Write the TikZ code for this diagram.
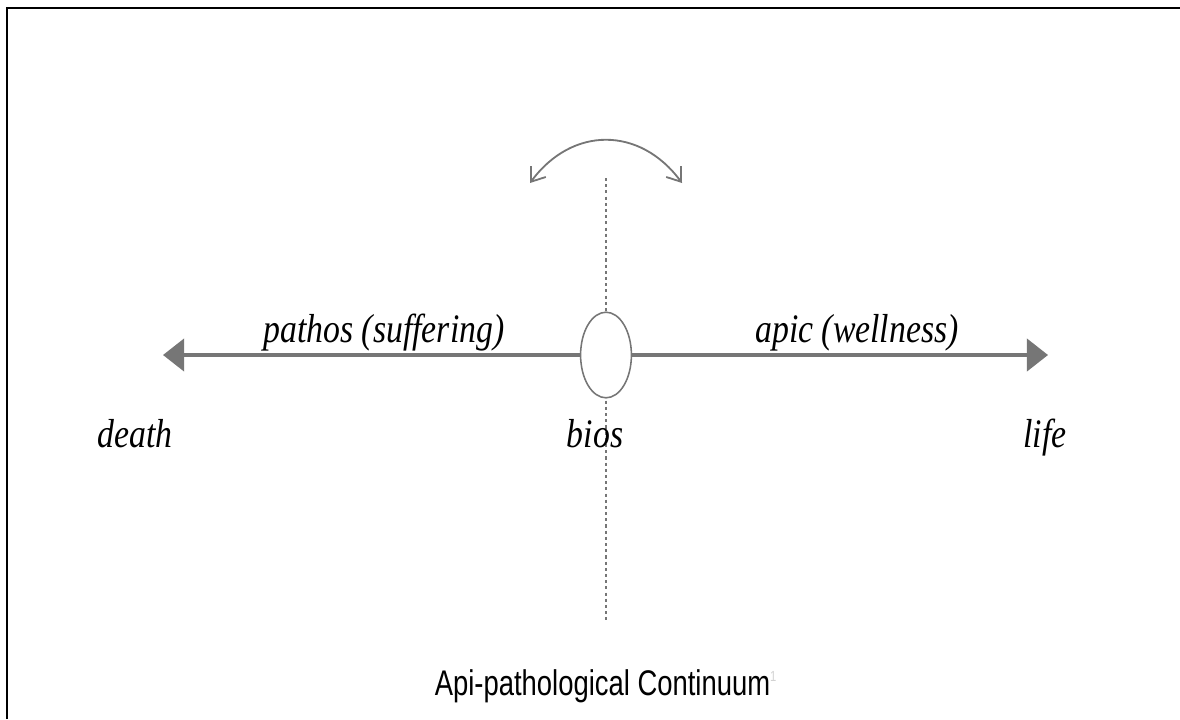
\documentclass[tikz,border=0pt]{standalone}
\usepackage{fontspec}
\newfontfamily\labelfont{Liberation Sans}
\newfontfamily\wordfont{Liberation Serif}
\usetikzlibrary{shapes.geometric,arrows.meta}
\definecolor{axisgray}{RGB}{118,118,118}

\begin{document}
\begin{tikzpicture}[x=0.025cm, y=-0.025cm,
		word/.style={font=\wordfont\fontsize{24}{28}\selectfont\itshape, anchor=base, yscale=1.2, transform shape},
		axisline/.style={draw=axisgray, line width=2.2pt, -{Triangle[length=15pt, width=23pt]}},
		swing/.style={draw=axisgray, line width=1.3pt, {Straight Barb[length=9pt, width=13pt]}-{Straight Barb[length=9pt, width=13pt]}}]
		\useasboundingbox (0,0) rectangle (1180,719);
		% frame (only top and left sides are seen)
		\draw[line width=1.6pt] (7,719) -- (7,8) -- (1180,8);
		
		% axis through bios
		\coordinate (top) at (606,178);
		\coordinate (bottom) at (606,620);
		\draw[axisgray, line width=1.4pt, dash pattern=on 2.2pt off 2.2pt] (top) -- (bottom);
		\node[draw=axisgray, fill=white, line width=1.1pt, ellipse, minimum width=1.27cm, minimum height=2.14cm] (bios) at (606,355) {};
		\coordinate (deathend) at (163,355);
		\coordinate (lifeend) at (1048,355);
		\draw[axisline] (bios.west) -- (deathend);
		\draw[axisline] (bios.east) -- (lifeend);
		
		\coordinate (swingl) at (530,183);
		\coordinate (swingr) at (682,183);
		\draw[swing] (swingl) .. controls (572,126) and (640,126) .. (swingr);
		
		\node[word] (pathos) at (384,342) {pathos (suffering)};
		\node[word] (apic) at (857,342) {apic (wellness)};
		\node[word] (death) at (135,447) {death};
		\node[word] (biosl) at (595,447) {bios};
		\node[word] (life) at (1045,447) {life};
		
		\node[font=\labelfont\fontsize{19.5}{23}\selectfont, yscale=1.3, transform shape] (title) at (606,686) {Api-pathological Continuum\textcolor{gray!35}{\textsuperscript{\fontsize{8}{8}\selectfont 1}}};
	\end{tikzpicture}
\end{document}
